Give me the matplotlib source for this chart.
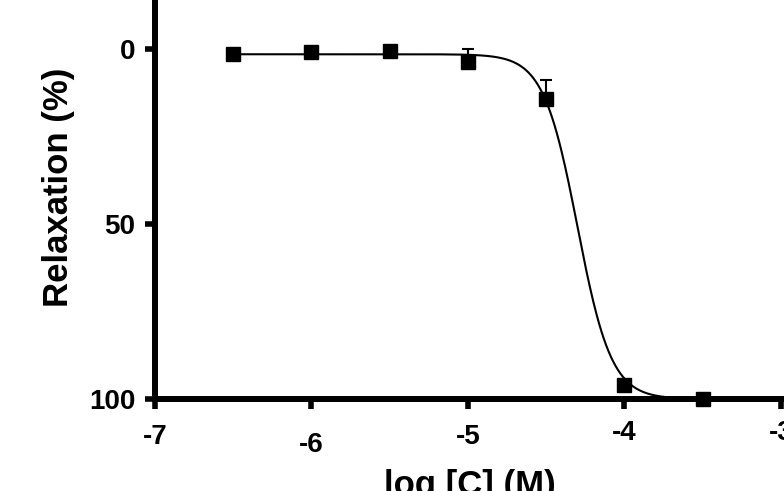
import numpy as np
import matplotlib
matplotlib.use("Agg")
import matplotlib.pyplot as plt

# data
log_conc = [-6.5, -6.0, -5.5, -5.0, -4.5, -4.0, -3.5]
relax = [1.4, 0.9, 0.6, 3.7, 14.3, 96.0, 100.0]
err_up = [0.0, 0.0, 0.0, 3.7, 5.4, 0.0, 0.0]
# fitted 4-parameter logistic
fit_bottom = 1.5
fit_top = 100.0
fit_logec50 = -4.30
fit_hill = 4.0
x_ticks = [-7, -6, -5, -4, -3]
x_tick_labels = ["-7", "-6", "-5", "-4", "-3"]
y_ticks = [0, 50, 100]

plt.rcParams['font.family'] = ['Liberation Sans', 'DejaVu Sans']
plt.rcParams['font.weight'] = 'bold'

fig = plt.figure(figsize=(7.84, 4.91), dpi=100)
W, H = 784, 491
ax = fig.add_axes([155 / W, (H - 399) / H, (784 - 155) / W, 399 / H])

xc = np.linspace(log_conc[0], log_conc[-1], 400)
yc = fit_bottom + (fit_top - fit_bottom) / (1 + 10 ** (fit_hill * (fit_logec50 - xc)))
ax.plot(xc, yc, color='black', lw=1.5, zorder=3)

# errors drawn upward only (toward smaller values on the inverted axis)
ax.errorbar(log_conc, relax, yerr=[err_up, np.zeros(len(err_up))], fmt='none',
            ecolor='black', elinewidth=1.5, capsize=4, capthick=1.5, zorder=3)
ax.plot(log_conc, relax, 's', color='black', markersize=9.5, zorder=5, clip_on=False)

ax.set_xlim(-7, -2.98)
ax.set_ylim(100, -14)
ax.set_xticks(x_ticks)
ax.set_xticklabels(x_tick_labels)
ax.set_yticks(y_ticks)

for s in ['top', 'right']:
    ax.spines[s].set_visible(False)
for s in ['left', 'bottom']:
    ax.spines[s].set_linewidth(4.3)

ax.tick_params(axis='both', width=4, length=7, labelsize=20, direction='out')
ax.tick_params(axis='y', pad=7)
pads = [11, 17, 11, 8, 8]
for t, p in zip(ax.xaxis.get_major_ticks(), pads):
    t.set_pad(p)
for lab in ax.get_xticklabels() + ax.get_yticklabels():
    lab.set_fontweight('bold')

ax.set_ylabel('Relaxation (%)', fontsize=25, fontweight='bold')
ax.yaxis.set_label_coords(-0.127, 0.53)
ax.set_xlabel('log [C] (M)', fontsize=25, fontweight='bold', labelpad=8)

fig.savefig('out.png', dpi=100)
